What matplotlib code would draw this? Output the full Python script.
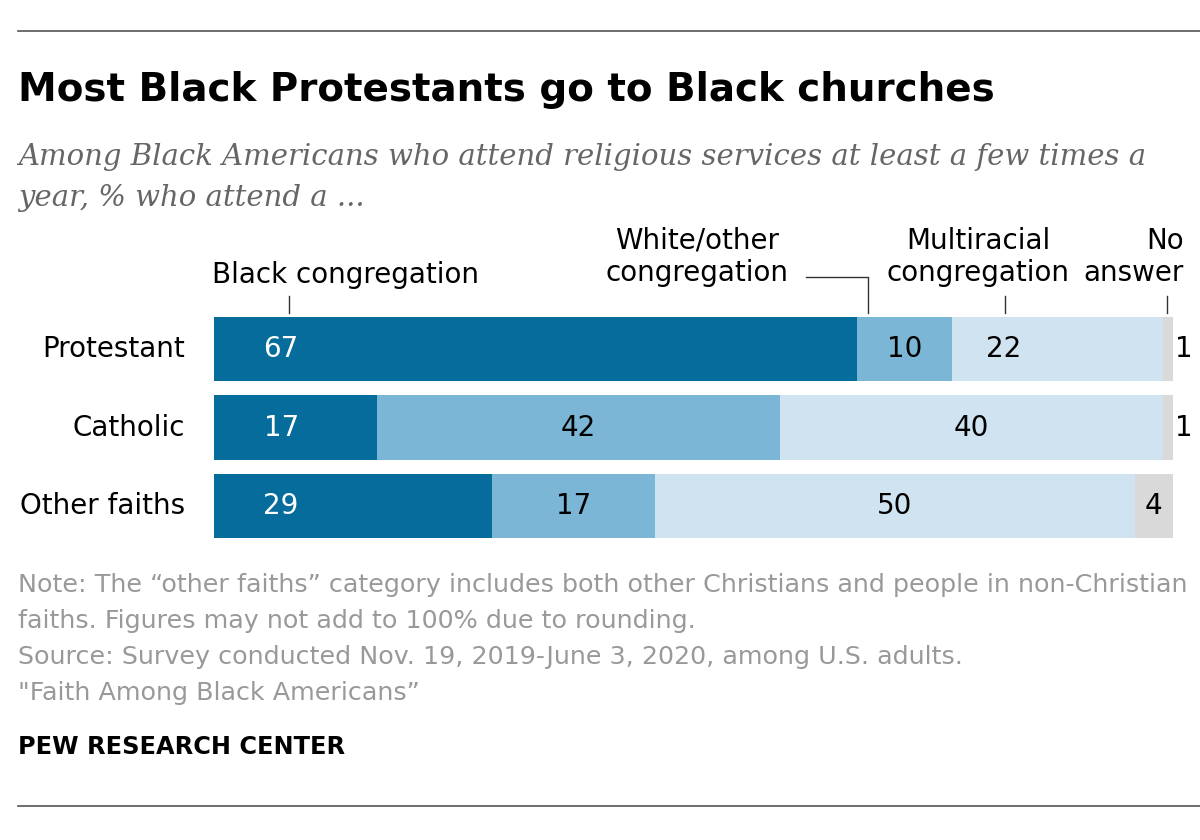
import matplotlib.pyplot as plt
import numpy as np

# --- dados ---
categories = ["Protestant", "Catholic", "Other faiths"]
series_names = ["Black congregation", "White/other congregation",
                "Multiracial congregation", "No answer"]
black_cong = [67, 17, 29]
white_other = [10, 42, 17]
multiracial = [22, 40, 50]
no_answer = [1, 1, 4]

colors = ["#056c9c", "#7bb6d6", "#d0e3f0", "#d9d9d9"]
plt.rcParams["font.family"] = ["DejaVu Sans"]

W, H = 1200, 840
fig = plt.figure(figsize=(12, 8.4), dpi=100)


def fx(px):
    return px / W


def fy(py):
    return 1 - py / H


# linhas de moldura
fig.add_artist(plt.Line2D([fx(18), fx(1200)], [fy(31), fy(31)], color="#555555", lw=1.2))
fig.add_artist(plt.Line2D([fx(18), fx(1200)], [fy(806), fy(806)], color="#555555", lw=1.2))

fig.text(fx(18), fy(90), "Most Black Protestants go to Black churches",
         fontsize=28, fontweight="bold", va="center", ha="left")
fig.text(fx(18), fy(157),
         "Among Black Americans who attend religious services at least a few times a",
         fontsize=21, style="italic", family="DejaVu Serif", color="#666666", va="center")
fig.text(fx(18), fy(198), "year, % who attend a ...",
         fontsize=21, style="italic", family="DejaVu Serif", color="#666666", va="center")

# eixo das barras
ax = fig.add_axes([fx(214), fy(545), fx(1173) - fx(214), (545 - 310) / H])
y = np.arange(len(categories))
series = [black_cong, white_other, multiracial, no_answer]
left = np.zeros(len(categories))
for vals, c in zip(series, colors):
    ax.barh(y, vals, left=left, height=0.82, color=c, edgecolor="none")
    left += np.array(vals)

ax.set_xlim(0, 100)
ax.set_ylim(2.5, -0.5)
ax.axis("off")

# rótulos das categorias
for i, cat in enumerate(categories):
    ax.text(-3, i, cat, ha="right", va="center", fontsize=20)

# rótulos dos valores
for i in range(len(categories)):
    ax.text(7, i, str(black_cong[i]), ha="center", va="center", fontsize=20, color="white")
    l1 = black_cong[i]
    ax.text(l1 + white_other[i] / 2, i, str(white_other[i]), ha="center", va="center", fontsize=20)
    l2 = l1 + white_other[i]
    mx = l2 + multiracial[i] / 2 if multiracial[i] > 30 else l2 + 5.3
    ax.text(mx, i, str(multiracial[i]), ha="center", va="center", fontsize=20)
    l3 = l2 + multiracial[i]
    if no_answer[i] >= 3:
        ax.text(l3 + no_answer[i] / 2, i, str(no_answer[i]), ha="center", va="center", fontsize=20)
    else:
        ax.text(100.2, i, str(no_answer[i]), ha="left", va="center", fontsize=20)

# cabeçalho das séries
tick_col = "#333333"
def tick(xpx):
    fig.add_artist(plt.Line2D([fx(xpx), fx(xpx)], [fy(296), fy(313)], color=tick_col, lw=1))

fig.text(fx(345), fy(275), "Black congregation", ha="center", va="center", fontsize=20)
tick(289)
fig.text(fx(697), fy(257), "White/other\ncongregation", ha="center", va="center",
         fontsize=20, linespacing=1.2)
fig.add_artist(plt.Line2D([fx(806), fx(868), fx(868)], [fy(277), fy(277), fy(313)],
                          color=tick_col, lw=1))
fig.text(fx(978), fy(257), "Multiracial\ncongregation", ha="center", va="center",
         fontsize=20, linespacing=1.2)
tick(1005)
fig.text(fx(1184), fy(257), "No\nanswer", ha="right", va="center", fontsize=20,
         linespacing=1.2, multialignment="right")
tick(1167)

# notas
note_col = "#999999"
notes = [
    "Note: The \u201cother faiths\u201d category includes both other Christians and people in non-Christian",
    "faiths. Figures may not add to 100% due to rounding.",
    "Source: Survey conducted Nov. 19, 2019-June 3, 2020, among U.S. adults.",
    "\"Faith Among Black Americans\u201d",
]
for k, line in enumerate(notes):
    fig.text(fx(18), fy(585 + 36 * k), line, fontsize=18.3, color=note_col, va="center")

fig.text(fx(18), fy(747), "PEW RESEARCH CENTER", fontsize=17.3, fontweight="bold", va="center")

fig.savefig("out.png", dpi=100)
